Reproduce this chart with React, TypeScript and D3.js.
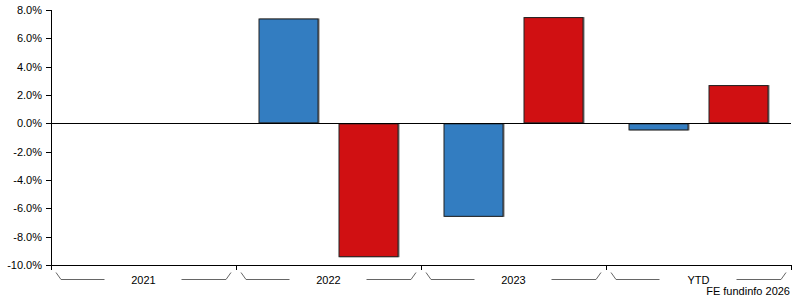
import React from "react";
import * as d3 from "d3";

const categories = ["2021", "2022", "2023", "YTD"];
const seriesA: (number | null)[] = [null, 7.4, -6.6, -0.5];
const seriesB: (number | null)[] = [null, -9.45, 7.5, 2.7];
const yTicks = [8, 6, 4, 2, 0, -2, -4, -6, -8, -10];
const credit = "FE fundinfo 2026";

const W = 795, H = 300;
const left = 51, right = 791, top = 10, bottom = 265;
const font = "Arial, 'Liberation Sans', sans-serif";

export default function App() {
  const x = d3.scaleBand<string>().domain(categories).range([left, right]);
  const y = d3.scaleLinear().domain([-10, 8]).range([bottom, top]);
  const barW = 60, gap = 20;
  const bars: { x: number; v: number; color: string }[] = [];
  categories.forEach((c, i) => {
    const cx = (x(c) as number) + x.bandwidth() / 2;
    const a = seriesA[i], b = seriesB[i];
    if (a != null) bars.push({ x: cx - gap / 2 - barW, v: a, color: "#337dc1" });
    if (b != null) bars.push({ x: cx + gap / 2, v: b, color: "#d01012" });
  });
  return (
    <svg width={W} height={H} style={{ position: "absolute", left: 0, top: 0, background: "#fff" }}>
      {bars.map((b, i) => {
        const y0 = y(0), y1 = y(b.v);
        const yt = Math.min(y0, y1), h = Math.abs(y1 - y0);
        return (
          <g key={i}>
            <rect x={b.x + 1} y={yt} width={barW} height={h} fill="#777" />
            <rect x={b.x + 0.5} y={yt + 0.5} width={barW - 1} height={h - 1} fill={b.color} stroke="#222" strokeWidth={1} />
          </g>
        );
      })}
      {/* zero line */}
      <line x1={left} x2={right} y1={Math.round(y(0)) + 0.5} y2={Math.round(y(0)) + 0.5} stroke="#000" />
      {/* y axis */}
      <line x1={left + 0.5} x2={left + 0.5} y1={top} y2={bottom + 5} stroke="#000" />
      {yTicks.map((t) => (
        <g key={t}>
          <line x1={left - 5} x2={left} y1={Math.round(y(t)) + 0.5} y2={Math.round(y(t)) + 0.5} stroke="#000" />
          <text x={left - 9} y={y(t) + 4} textAnchor="end" fontFamily={font} fontSize={11} fill="#000">
            {t.toFixed(1) + "%"}
          </text>
        </g>
      ))}
      {/* x axis */}
      <line x1={left} x2={right} y1={bottom + 0.5} y2={bottom + 0.5} stroke="#000" />
      {categories.map((c) => {
        const x0 = x(c) as number;
        const x1 = x0 + x.bandwidth();
        const cx = (x0 + x1) / 2;
        return (
          <g key={c}>
            <line x1={Math.round(x1) + 0.5} x2={Math.round(x1) + 0.5} y1={bottom} y2={bottom + 5} stroke="#000" />
            <path
              d={`M${x0 + 5},${bottom + 7.5} L${x0 + 10},${bottom + 14.5} L${cx - 39},${bottom + 14.5}`}
              fill="none" stroke="#666" />
            <path
              d={`M${cx + 38},${bottom + 14.5} L${x1 - 10},${bottom + 14.5} L${x1 - 5},${bottom + 7.5}`}
              fill="none" stroke="#666" />
            <text x={cx} y={bottom + 19} textAnchor="middle" fontFamily={font} fontSize={11} fill="#000">
              {c}
            </text>
          </g>
        );
      })}
      <text x={790} y={295} textAnchor="end" fontFamily={font} fontSize={11} fill="#000">
        {credit}
      </text>
    </svg>
  );
}
